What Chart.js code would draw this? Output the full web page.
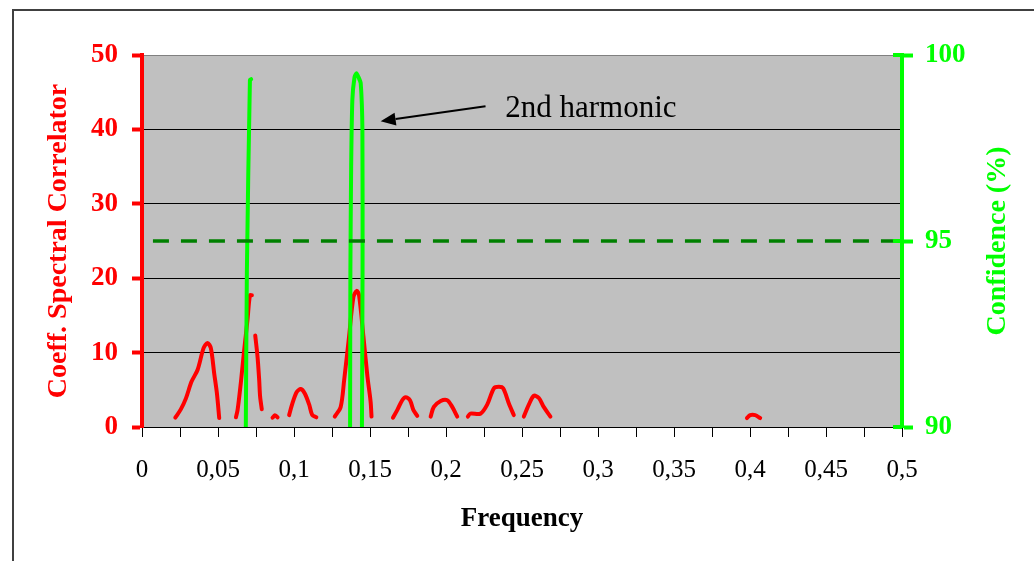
<!DOCTYPE html>
<html><head><meta charset="utf-8">
<script src="https://cdn.jsdelivr.net/npm/chart.js@4/dist/chart.umd.min.js"></script>
<style>html,body{margin:0;padding:0;background:#fff}canvas{display:block}</style>
</head><body>
<canvas id="c" width="1034" height="561"></canvas>
<script>
// ---- data (null = break between curve pieces) ----
const coefFreq = [
  0.0219,0.0256,0.0289,0.0326,0.0366,0.0405,0.0431,0.0453,0.0475,0.0493,0.0508, null,
  0.0618,0.0629,0.0650,0.0672,0.0694,0.0710,0.0723, null,
  0.0745,0.0760,0.0771,0.0777,0.0788, null,
  0.0859,0.0874,0.0892, null,
  0.0968,0.0990,0.1018,0.1045,0.1071,0.1100,0.1120,0.1147, null,
  0.1268,0.1307,0.1330,0.1362,0.1391,0.1413,0.1428,0.1457,0.1483,0.1504,0.1510, null,
  0.1651,0.1680,0.1712,0.1734,0.1763,0.1785,0.1811, null,
  0.1899,0.1920,0.1965,0.2008,0.2041,0.2074, null,
  0.2144,0.2160,0.2227,0.2271,0.2315,0.2348,0.2376,0.2413,0.2446, null,
  0.2512,0.2545,0.2578,0.2611,0.2643,0.2687, null,
  0.3980,0.4001,0.4034,0.4067
];
const coefValue = [
  1.25,2.4,3.85,6.1,7.7,10.6,11.3,10.6,7.2,4.5,1.2, null,
  1.3,2.3,5.9,10.3,14.4,17.7,17.7, null,
  12.3,9.45,6.3,4.1,2.4, null,
  1.25,1.57,1.3, null,
  1.6,3.2,4.7,5.1,4.5,3.0,1.6,1.3, null,
  1.4,2.7,6.3,12.1,17.5,18.3,17.7,12.1,6.8,3.4,1.4, null,
  1.25,2.3,3.6,4.0,3.6,2.3,1.5, null,
  1.4,2.7,3.5,3.6,2.7,1.4, null,
  1.4,1.8,1.8,3.0,5.2,5.4,5.2,3.2,1.6, null,
  1.4,3.0,4.2,3.9,2.7,1.4, null,
  1.2,1.6,1.6,1.2
];
const confFreq = [
  0.0683,0.0690,0.0710,0.0718, null,
  0.1369,0.1371,0.1376,0.1384,0.1398,0.1411,0.1425,0.1439,0.1450,0.1451,0.1447
];
const confValue = [
  90,94.2,99.33,99.35, null,
  90,94.2,97.0,98.8,99.4,99.51,99.4,99.24,98.0,94.2,90
];
const thresholdFreq = [0.0072, 0.5];
const thresholdValue = [95, 95];
const xTickLabels = ["0","0,05","0,1","0,15","0,2","0,25","0,3","0,35","0,4","0,45","0,5"];
const yTickLabels = ["0","10","20","30","40","50"];
const y2TickLabels = ["90","95","100"];
const annotationText = "2nd harmonic";
const arrowTip = {x: 0.157, y: 41.1};
const arrowTail = {x: 0.226, y: 43.1};
const annotationAnchor = {x: 0.239, y: 41.6};

const toPts = (xs, ys) => xs.map((x, i) => ({x: x, y: ys[i]}));
const SERIF = '"Liberation Serif", "Times New Roman", Times, serif';
Chart.defaults.font.family = SERIF;

const decor = {
  id: 'decor',
  beforeDraw(chart) {
    const {ctx, chartArea: a} = chart;
    ctx.save();
    ctx.fillStyle = '#ffffff';
    ctx.fillRect(0, 0, chart.width, chart.height);
    ctx.fillStyle = '#C0C0C0';
    ctx.fillRect(a.left, a.top, a.right - a.left, a.bottom - a.top);
    ctx.strokeStyle = '#404040';
    ctx.lineWidth = 2;
    ctx.strokeRect(13, 10, chart.width + 50, chart.height + 50);
    ctx.restore();
  },
  afterDraw(chart) {
    const {ctx, chartArea: a, scales} = chart;
    ctx.save();
    // inward tick stubs on the right axis
    ctx.strokeStyle = '#00FF00';
    ctx.lineWidth = 4;
    scales.y2.ticks.forEach(t => {
      const py = scales.y2.getPixelForValue(t.value);
      ctx.beginPath(); ctx.moveTo(a.right - 9, py); ctx.lineTo(a.right, py); ctx.stroke();
    });
    // axis titles
    ctx.font = 'bold 28px ' + SERIF;
    ctx.textAlign = 'center';
    ctx.textBaseline = 'middle';
    ctx.fillStyle = '#FF0000';
    ctx.save(); ctx.translate(59, (a.top + a.bottom) / 2); ctx.rotate(-Math.PI / 2);
    ctx.fillText('Coeff. Spectral Correlator', 0, 0); ctx.restore();
    ctx.fillStyle = '#00FF00';
    ctx.save(); ctx.translate(998, (a.top + a.bottom) / 2); ctx.rotate(-Math.PI / 2);
    ctx.fillText('Confidence (%)', 0, 0); ctx.restore();
    ctx.fillStyle = '#000000';
    ctx.font = 'bold 27px ' + SERIF;
    ctx.fillText('Frequency', (a.left + a.right) / 2, 519);
    // annotation arrow
    const x = scales.x, y = scales.y;
    const tx = x.getPixelForValue(arrowTip.x), ty = y.getPixelForValue(arrowTip.y);
    const sx = x.getPixelForValue(arrowTail.x), sy = y.getPixelForValue(arrowTail.y);
    const ang = Math.atan2(ty - sy, tx - sx);
    const L = 15, W = 6.5;
    const bx = tx - L * Math.cos(ang), by = ty - L * Math.sin(ang);
    ctx.strokeStyle = '#000'; ctx.lineWidth = 2;
    ctx.beginPath(); ctx.moveTo(sx, sy); ctx.lineTo(bx, by); ctx.stroke();
    ctx.fillStyle = '#000';
    ctx.beginPath();
    ctx.moveTo(tx, ty);
    ctx.lineTo(bx + W * Math.sin(ang), by - W * Math.cos(ang));
    ctx.lineTo(bx - W * Math.sin(ang), by + W * Math.cos(ang));
    ctx.closePath(); ctx.fill();
    ctx.font = '31px ' + SERIF;
    ctx.textAlign = 'left';
    ctx.textBaseline = 'alphabetic';
    ctx.fillText(annotationText, x.getPixelForValue(annotationAnchor.x), y.getPixelForValue(annotationAnchor.y));
    ctx.restore();
  }
};

new Chart(document.getElementById('c'), {
  type: 'line',
  data: {
    datasets: [
      {
        label: 'threshold', yAxisID: 'y2',
        data: toPts(thresholdFreq, thresholdValue),
        borderColor: '#008000', borderWidth: 3.5, borderDash: [16, 12],
        pointRadius: 0, tension: 0
      },
      {
        label: 'Confidence', yAxisID: 'y2',
        data: toPts(confFreq, confValue),
        borderColor: '#00FF00', borderWidth: 4, pointRadius: 0, tension: 0.2,
        spanGaps: false, borderCapStyle: 'round', borderJoinStyle: 'round'
      },
      {
        label: 'Coeff', yAxisID: 'y',
        data: toPts(coefFreq, coefValue),
        borderColor: '#FF0000', borderWidth: 4, pointRadius: 0, tension: 0.3,
        spanGaps: false, borderCapStyle: 'round', borderJoinStyle: 'round'
      }
    ]
  },
  options: {
    responsive: false, animation: false,
    layout: {padding: {top: 55, left: 0, right: 0, bottom: 0}},
    plugins: {legend: {display: false}, tooltip: {enabled: false}},
    scales: {
      x: {
        type: 'linear', min: 0, max: 0.5,
        afterFit: s => { s.height = 134; },
        border: {color: '#000', width: 1},
        grid: {drawOnChartArea: false, tickLength: 10, tickColor: '#000', tickWidth: 1},
        ticks: {
          stepSize: 0.025, autoSkip: false, maxRotation: 0, padding: 18,
          color: '#000', font: {size: 25},
          callback: v => {
            const k = Math.round(v / 0.05);
            return Math.abs(v - k * 0.05) < 1e-6 ? xTickLabels[k] : '';
          }
        }
      },
      y: {
        position: 'left', min: 0, max: 50,
        afterFit: s => { s.width = 142; },
        border: {color: '#FF0000', width: 4},
        grid: {
          color: c => c.tick.value === 50 ? '#808080' : (c.tick.value === 0 ? 'transparent' : '#000'),
          lineWidth: 1, tickLength: 10, tickColor: '#FF0000', tickWidth: 4
        },
        ticks: {
          stepSize: 10, padding: 14, color: '#FF0000', font: {size: 27, weight: 'bold'},
          callback: v => yTickLabels[Math.round(v / 10)]
        }
      },
      y2: {
        position: 'right', min: 90, max: 100,
        afterFit: s => { s.width = 132; },
        border: {color: '#00FF00', width: 4},
        grid: {drawOnChartArea: false, tickLength: 11, tickColor: '#00FF00', tickWidth: 4},
        ticks: {
          stepSize: 5, padding: 12, color: '#00FF00', font: {size: 27, weight: 'bold'},
          callback: v => y2TickLabels[Math.round((v - 90) / 5)]
        }
      }
    }
  },
  plugins: [decor]
});
</script>
</body></html>
